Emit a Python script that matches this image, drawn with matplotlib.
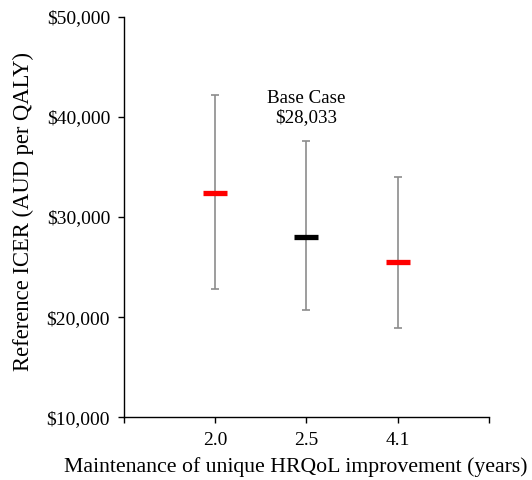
import matplotlib
matplotlib.use("Agg")
import matplotlib.pyplot as plt
from matplotlib.ticker import FuncFormatter

# years of unique HRQoL improvement
categories = ["2.0", "2.5", "4.1"]
icer = [32450, 28033, 25470]
icer_high = [42200, 37600, 33970]
icer_low = [22830, 20730, 18930]
bar_colors = ["#ff0000", "#000000", "#ff0000"]
base_case = 28033

plt.rcParams["font.family"] = ["Liberation Serif", "DejaVu Serif"]

fig = plt.figure(figsize=(5.32, 4.8), dpi=100)
ax = fig.add_axes([0.233, 0.131, 0.686, 0.8335])

xpos = list(range(1, len(categories) + 1))
err_lo = [v - l for v, l in zip(icer, icer_low)]
err_hi = [h - v for v, h in zip(icer, icer_high)]

ax.errorbar(xpos, icer, yerr=[err_lo, err_hi], fmt="none", ecolor="#8c8c8c",
            elinewidth=1.2, capsize=2.9, capthick=1.2, zorder=2)
for x, v, c in zip(xpos, icer, bar_colors):
    ax.plot(x, v, marker="_", markersize=17.5, markeredgewidth=3.8, color=c, zorder=3)

ax.text(2, 40900, "Base Case\n$" + f"{base_case:,}", ha="center", va="center",
        fontsize=13.7, linespacing=1.2)

ax.set_xlim(0, 4)
ax.set_ylim(10000, 50000)
ax.set_xticks([0] + xpos + [4])
ax.set_xticklabels([""] + categories + [""])
ax.set_yticks(range(10000, 50001, 10000))
ax.yaxis.set_major_formatter(FuncFormatter(lambda v, p: "$" + f"{v:,.0f}"))

for s in ["top", "right"]:
    ax.spines[s].set_visible(False)
for s in ["left", "bottom"]:
    ax.spines[s].set_linewidth(1.0)
ax.tick_params(direction="out", length=4, width=1.0, labelsize=14)
ax.tick_params(axis="x", pad=7)
ax.tick_params(axis="y", pad=6)

ax.set_ylabel("Reference ICER (AUD per QALY)", fontsize=16.3)
ax.yaxis.set_label_coords(-0.247, 0.515)
ax.set_xlabel("Maintenance of unique HRQoL improvement (years)", fontsize=15.7, ha="left")
ax.xaxis.set_label_coords(-0.164, -0.1)

fig.savefig("out.png", dpi=100)
